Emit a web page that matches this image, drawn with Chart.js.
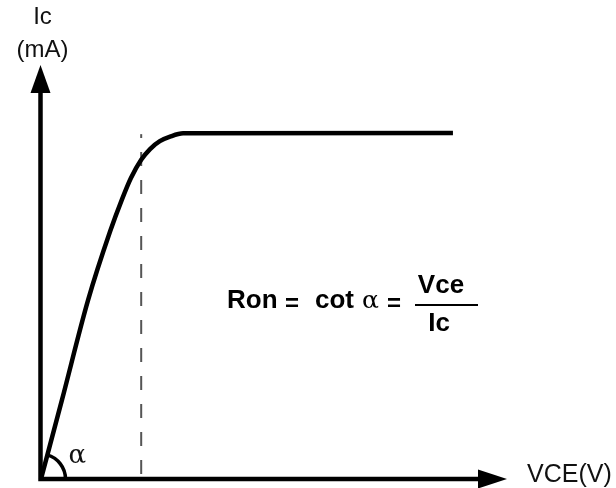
<!DOCTYPE html>
<html>
<head>
<meta charset="utf-8">
<script src="https://cdn.jsdelivr.net/npm/chart.js@4"></script>
<style>
  html, body { margin: 0; padding: 0; background: #fff; }
  canvas { display: block; }
</style>
</head>
<body>
<canvas id="ronChart" width="616" height="488"></canvas>
<script>
// output characteristic: VCE (V) against Ic (mA)
const vce = [0, 0.45, 1.01, 1.48, 1.74, 1.93, 2.15, 2.34, 2.55, 2.77, 3.05, 8.84];
const ic  = [0, 1.91, 4.32, 5.97, 6.76, 7.27, 7.71, 7.97, 8.16, 8.27, 8.35, 8.36];

// dashed marker at the knee of the curve
const kneeVce = [2.15, 2.15];
const kneeIc  = [0, 8.33];

const xMax = 10;
const yMax = 10;

const toPoints = (xs, ys) => xs.map((x, i) => ({ x: x, y: ys[i] }));

const FONT = '"Liberation Sans", Arial, sans-serif';
const GREEK = '"DejaVu Serif", serif';

// axes with arrow heads, the angle mark and all the labels
const annotations = {
    id: 'annotations',
    afterDraw(chart) {
        const ctx = chart.ctx;
        const sx = chart.scales.x, sy = chart.scales.y;
        const ox = sx.getPixelForValue(0) - 0.5;
        const oy = sy.getPixelForValue(0);
        const tipX = sx.getPixelForValue(xMax);
        const tipY = sy.getPixelForValue(yMax);

        ctx.save();
        ctx.strokeStyle = '#000';
        ctx.fillStyle = '#000';
        ctx.lineWidth = 4.5;
        ctx.lineCap = 'butt';

        // shafts
        ctx.beginPath();
        ctx.moveTo(ox, oy + 2.2);
        ctx.lineTo(ox, tipY + 26);
        ctx.moveTo(ox - 2.2, oy);
        ctx.lineTo(tipX - 26, oy);
        ctx.stroke();

        // arrow heads
        ctx.beginPath();
        ctx.moveTo(ox, tipY);
        ctx.lineTo(ox - 10, tipY + 28);
        ctx.lineTo(ox + 10, tipY + 28);
        ctx.closePath();
        ctx.fill();
        ctx.beginPath();
        ctx.moveTo(tipX, oy);
        ctx.lineTo(tipX - 29, oy - 9.5);
        ctx.lineTo(tipX - 29, oy + 9.5);
        ctx.closePath();
        ctx.fill();

        // angle alpha between the ohmic slope and the VCE axis
        const p1x = sx.getPixelForValue(vce[1]), p1y = sy.getPixelForValue(ic[1]);
        const theta = Math.atan2(oy - p1y, p1x - ox);
        ctx.lineWidth = 3.5;
        ctx.beginPath();
        ctx.arc(ox, oy, 25, 0, -theta, true);
        ctx.stroke();

        ctx.fillStyle = '#111';
        ctx.textBaseline = 'alphabetic';

        // axis titles
        ctx.font = '24px ' + FONT;
        ctx.textAlign = 'center';
        ctx.fillText('Ic', ox + 2, 24);
        ctx.fillText('(mA)', ox + 2, 57);
        ctx.font = '25px ' + FONT;
        ctx.textAlign = 'left';
        ctx.fillText('VCE(V)', tipX + 20, oy + 3);

        ctx.font = '26px ' + GREEK;
        ctx.fillText('\u03B1', ox + 28, oy - 16);

        // Ron = cot alpha = Vce / Ic
        const bx = chart.chartArea.left;
        const base = 308;
        ctx.fillStyle = '#000';
        ctx.font = 'bold 26px ' + FONT;
        ctx.fillText('Ron', bx + 186, base);
        ctx.fillText('cot', bx + 274, base);
        ctx.font = 'bold 24px ' + FONT;
        ctx.fillText('=', bx + 244, base + 3);
        ctx.fillText('=', bx + 346, base + 3);
        ctx.font = '25px ' + GREEK;
        ctx.fillText('\u03B1', bx + 321, base);

        ctx.font = 'bold 26px ' + FONT;
        ctx.textAlign = 'center';
        ctx.fillText('Vce', bx + 400, base - 15);
        ctx.fillText('Ic', bx + 398, base + 23);
        ctx.fillRect(bx + 374, base - 4, 63, 2);
        ctx.restore();
    }
};

new Chart(document.getElementById('ronChart').getContext('2d'), {
    type: 'scatter',
    data: {
        datasets: [{
            data: toPoints(vce, ic),
            showLine: true,
            borderColor: '#000',
            borderWidth: 4.5,
            pointRadius: 0,
            cubicInterpolationMode: 'monotone',
            clip: false
        }, {
            data: toPoints(kneeVce, kneeIc),
            showLine: true,
            borderColor: '#555',
            borderWidth: 2,
            borderDash: [14, 14],
            borderDashOffset: 23,
            pointRadius: 0,
            clip: false
        }]
    },
    options: {
        responsive: false,
        animation: false,
        layout: {
            padding: { left: 41, right: 109, top: 65, bottom: 9 }
        },
        plugins: {
            legend: { display: false },
            tooltip: { enabled: false }
        },
        scales: {
            x: { type: 'linear', min: 0, max: xMax, display: false },
            y: { type: 'linear', min: 0, max: yMax, display: false }
        }
    },
    plugins: [annotations]
});
</script>
</body>
</html>
